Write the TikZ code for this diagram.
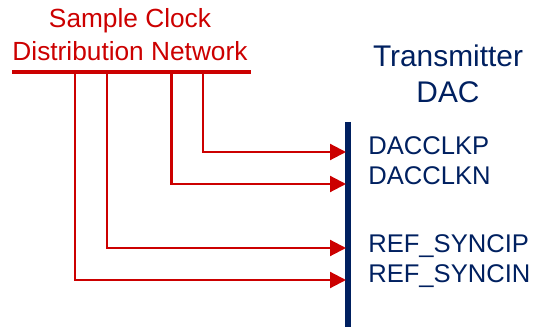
\documentclass[tikz,border=0pt]{standalone}
\usepackage{fontspec}
\setmainfont{Liberation Sans}
\usepackage{xcolor}
\usetikzlibrary{arrows.meta}
\definecolor{netred}{RGB}{204,0,0}
\definecolor{dacblue}{RGB}{0,32,96}
\begin{document}
\begin{tikzpicture}[x=0.75pt,y=-0.75pt,
feed/.style={netred,line width=1.6pt,-{Triangle[length=12pt,width=12pt]}},
pin/.style={dacblue,anchor=base west,inner sep=0pt,font=\fontsize{19.2}{22}\selectfont}]
\useasboundingbox(0,0)rectangle(535,327);
% clock network
\node[netred,align=center,anchor=south,inner sep=0pt,font=\fontsize{19.7}{24.75}\selectfont](net)at(130,61){Sample Clock\\Distribution Network};
\coordinate(busL)at(12,72.5);
\coordinate(busR)at(251,72.5);
\draw[netred,line width=3pt](busL)--(busR);
\coordinate(tapP)at(203.3,72.5);
\coordinate(tapN)at(171.5,72.5);
\coordinate(tapSP)at(107,72.5);
\coordinate(tapSN)at(75,72.5);
% DAC side
\node[dacblue,align=center,anchor=south,inner sep=0pt,font=\fontsize{22.4}{27}\selectfont](dac)at(448,103){Transmitter\\DAC};
\coordinate(barT)at(348,122);
\coordinate(barB)at(348,327);
\draw[dacblue,line width=4pt](barT)--(barB);
\coordinate(inP)at(346,152);
\coordinate(inN)at(346,184);
\coordinate(inSP)at(346,248);
\coordinate(inSN)at(346,280);
\node[pin](pinP)at(368,155){DACCLKP};
\node[pin](pinN)at(368,185){DACCLKN};
\node[pin](pinSP)at(368,253){REF\_SYNCIP};
\node[pin](pinSN)at(368,283){REF\_SYNCIN};
\draw[feed](tapP)|-(inP);
\draw[feed](tapN)|-(inN);
\draw[feed](tapSP)|-(inSP);
\draw[feed](tapSN)|-(inSN);
\end{tikzpicture}
\end{document}
